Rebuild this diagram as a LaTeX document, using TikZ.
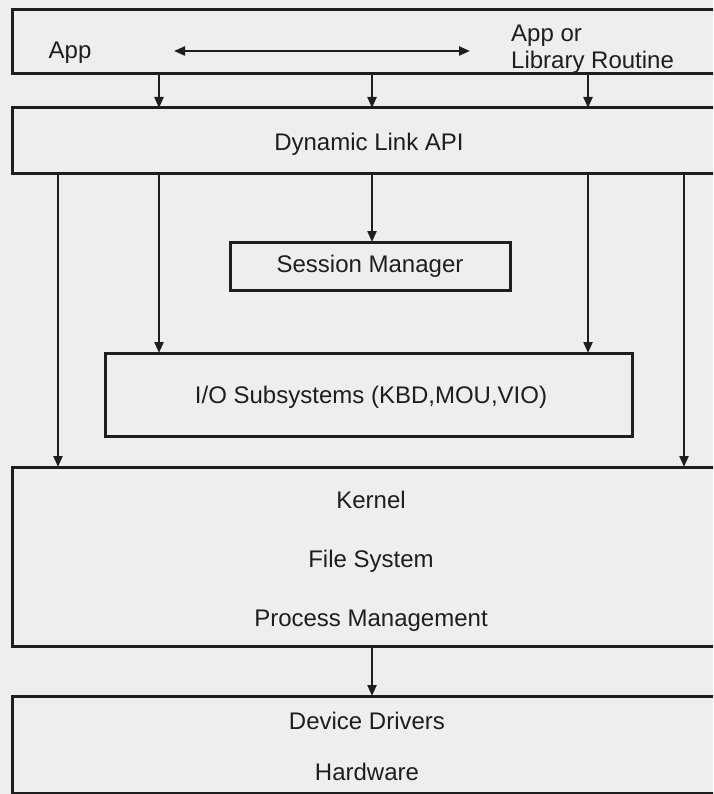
\documentclass[tikz,border=0pt]{standalone}
\usepackage{fontspec}
\setmainfont{Liberation Sans}
\usetikzlibrary{arrows.meta}
\definecolor{paper}{HTML}{EEEEEE}
\definecolor{ink}{HTML}{1E1E1E}
\begin{document}
\begin{tikzpicture}[x=1pt,y=-1pt,
  >={Triangle[length=11pt,width=9pt]},
  layer/.style={draw=ink, line width=3pt, rectangle, inner sep=0pt, outer sep=0pt, anchor=north west},
  lbl/.style={text=ink, font=\fontsize{24}{27}\selectfont, inner sep=0pt, text height=17.2pt, text depth=0pt},
  flow/.style={draw=ink, line width=2.2pt, ->},
]
% page background and frame
\fill[paper] (0,0) rectangle (713,794);
\useasboundingbox (0,0) rectangle (713,794);
\clip (0,0) rectangle (713,794);

% layers (the wide ones run off the right edge)
\node[layer, minimum width=740pt, minimum height=64pt]  (apps)    at (12,10)  {};
\node[layer, minimum width=740pt, minimum height=66pt]  (dll)     at (12,108) {};
\node[layer, minimum width=280pt, minimum height=48pt]  (session) at (230,242) {};
\node[layer, minimum width=527pt, minimum height=83pt]  (io)      at (105,353) {};
\node[layer, minimum width=740pt, minimum height=179pt] (kernel)  at (12,467) {};
\node[layer, minimum width=740pt, minimum height=97pt]  (device)  at (12,696) {};

% labels
\node[lbl] (appL) at (70,50) {App};
\node[lbl, anchor=west] (appR1) at (511,33) {App or};
\node[lbl, anchor=west] (appR2) at (511,60) {Library Routine};
\node[lbl] (dllT) at (369,142) {Dynamic Link API};
\node[lbl] (sessT) at (370,264) {Session Manager};
\node[lbl] (ioT) at (371,395) {I/O Subsystems (KBD,MOU,VIO)};
\node[lbl] (k1) at (371,500) {Kernel};
\node[lbl] (k2) at (371,559) {File System};
\node[lbl] (k3) at (371,618) {Process Management};
\node[lbl] (d1) at (367,721) {Device Drivers};
\node[lbl] (d2) at (367,772) {Hardware};

% arrow columns
\coordinate (c1) at (58,0);
\coordinate (c2) at (159,0);
\coordinate (c3) at (372,0);
\coordinate (c4) at (588,0);
\coordinate (c5) at (684,0);
\coordinate (callL) at (174,51);
\coordinate (callR) at (470,51);

% call between the two programs
\draw[flow, <->] (callL) -- (callR);

% programs into the API
\draw[flow] (apps.south -| c2) -- (dll.north -| c2);
\draw[flow] (apps.south -| c3) -- (dll.north -| c3);
\draw[flow] (apps.south -| c4) -- (dll.north -| c4);

% API into the system layers
\draw[flow] (dll.south -| c1) -- (kernel.north -| c1);
\draw[flow] (dll.south -| c2) -- (io.north -| c2);
\draw[flow] (dll.south -| c3) -- (session.north -| c3);
\draw[flow] (dll.south -| c4) -- (io.north -| c4);
\draw[flow] (dll.south -| c5) -- (kernel.north -| c5);

% kernel down to the drivers
\draw[flow] (kernel.south -| c3) -- (device.north -| c3);
\end{tikzpicture}
\end{document}
